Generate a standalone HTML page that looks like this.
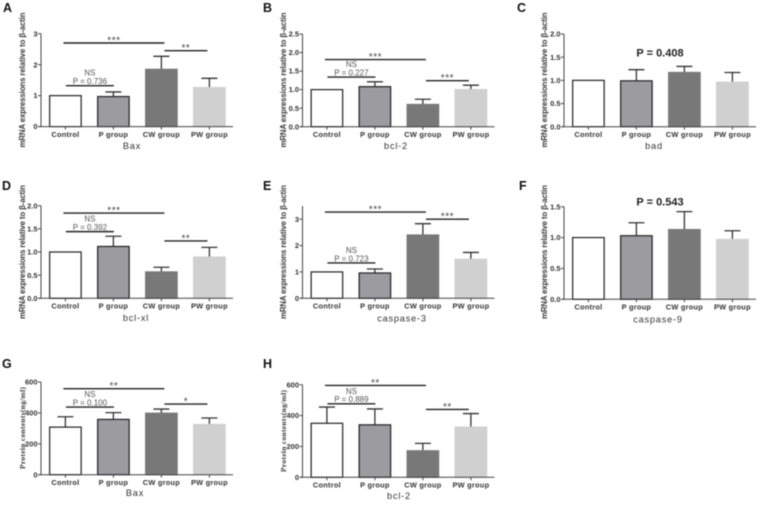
<!DOCTYPE html>
<html lang="en">
<head>
<meta charset="utf-8">
<title>mRNA and protein expression panels</title>
<style>
html,body{margin:0;padding:0;background:#fff;width:760px;height:505px;overflow:hidden}
svg{display:block;filter:blur(0.5px)}
text{font-family:"Liberation Sans",sans-serif}
</style>
</head>
<body>
<svg id="figure" xmlns="http://www.w3.org/2000/svg" width="760" height="505" viewBox="0 0 760 505"></svg>
<script>
const categories = ['Control', 'P group', 'CW group', 'PW group'];

const ticksA = ['0', '1', '2', '3'];
const valuesA = [1, 0.97, 1.85, 1.26];
const upperA = [null, 1.12, 2.27, 1.56];
const sigA = [[0, 2, 2.7, '***', ''], [2, 3, 2.45, '**', ''], [0, 1, 1.32, 'NS', 'P = 0.736']];

const ticksB = ['0.0', '0.5', '1.0', '1.5', '2.0', '2.5'];
const valuesB = [1, 1.08, 0.6, 1.0];
const upperB = [null, 1.21, 0.74, 1.12];
const sigB = [[0, 2, 1.81, '***', ''], [0, 1, 1.34, 'NS', 'P = 0.227'], [2, 3, 1.24, '***', '']];

const ticksC = ['0.0', '0.5', '1.0', '1.5', '2.0'];
const valuesC = [1, 0.99, 1.17, 0.96];
const upperC = [null, 1.23, 1.3, 1.17];
const sigC = [];

const ticksD = ['0.0', '0.5', '1.0', '1.5', '2.0'];
const valuesD = [1, 1.12, 0.57, 0.89];
const upperD = [null, 1.34, 0.67, 1.1];
const sigD = [[0, 2, 1.84, '***', ''], [0, 1, 1.44, 'NS', 'P = 0.392'], [2, 3, 1.24, '**', '']];

const ticksE = ['0', '1', '2', '3'];
const valuesE = [1, 0.96, 2.4, 1.48];
const upperE = [null, 1.11, 2.83, 1.74];
const sigE = [[0, 2, 3.27, '***', ''], [2, 3, 3.0, '***', ''], [0, 1, 1.34, 'NS', 'P = 0.723']];

const ticksF = ['0.0', '0.5', '1.0', '1.5'];
const valuesF = [1, 1.03, 1.13, 0.97];
const upperF = [null, 1.24, 1.42, 1.11];
const sigF = [];

const ticksG = ['0', '200', '400', '600'];
const valuesG = [308, 358, 398, 325];
const upperG = [375, 402, 425, 367];
const sigG = [[0, 2, 557, '**', ''], [0, 1, 438, 'NS', 'P = 0.100'], [2, 3, 457, '*', '']];

const ticksH = ['0', '200', '400', '600'];
const valuesH = [350, 340, 172, 325];
const upperH = [455, 443, 220, 413];
const sigH = [[0, 2, 595, '**', ''], [0, 1, 476, 'NS', 'P = 0.889'], [2, 3, 440, '**', '']];

const mrnaTitle = 'mRNA expressions relative to \u03B2-actin';
const proteinTitle = 'Protein contents(ng/ml)';

const panels = [
  {id:'A', gene:'Bax', ticks:ticksA, values:valuesA, upper:upperA, sig:sigA, axisMax:3, x0:41, base:126.6, top:33.7, lx:3, ly:12, title:mrnaTitle, tx:25, tc:80, tl:135, nameX:132, nameY:149},
  {id:'B', gene:'bcl-2', ticks:ticksB, values:valuesB, upper:upperB, sig:sigB, axisMax:2.5, x0:302.5, base:126.7, top:34, lx:263, ly:12, title:mrnaTitle, tx:286, tc:80, tl:135, nameX:396, nameY:149},
  {id:'C', gene:'bad', ticks:ticksC, values:valuesC, upper:upperC, sig:sigC, axisMax:2, x0:564, base:126.7, top:34, lx:517, ly:12, title:mrnaTitle, tx:547, tc:80, tl:135, nameX:654, nameY:149, big:'P = 0.408', bigX:660, bigY:56.7},
  {id:'D', gene:'bcl-xl', ticks:ticksD, values:valuesD, upper:upperD, sig:sigD, axisMax:2, x0:41, base:298.3, top:205.7, lx:2, ly:190, title:mrnaTitle, tx:25, tc:252, tl:134, nameX:136, nameY:321},
  {id:'E', gene:'caspase-3', ticks:ticksE, values:valuesE, upper:upperE, sig:sigE, axisMax:3.5, x0:302.5, base:298.3, top:206, lx:263, ly:190, title:mrnaTitle, tx:286, tc:252, tl:134, nameX:402, nameY:321.7},
  {id:'F', gene:'caspase-9', ticks:ticksF, values:valuesF, upper:upperF, sig:sigF, axisMax:1.5, x0:564, base:299.3, top:206.7, lx:519, ly:190, title:mrnaTitle, tx:547, tc:252, tl:134, nameX:658, nameY:322.7, big:'P = 0.543', bigX:660, bigY:205.7},
  {id:'G', gene:'Bax', ticks:ticksG, values:valuesG, upper:upperG, sig:sigG, axisMax:600, x0:41, base:474.7, top:382, lx:2, ly:368, title:proteinTitle, tx:25, tc:428, tl:82, nameX:135, nameY:496, serif:true},
  {id:'H', gene:'bcl-2', ticks:ticksH, values:valuesH, upper:upperH, sig:sigH, axisMax:600, x0:302.5, base:477.3, top:384.7, lx:263, ly:368, title:proteinTitle, tx:286, tc:431, tl:82, nameX:399, nameY:499, serif:true}
];

const barFill = ['#ffffff', '#9b9ba0', '#787878', '#d0d0d0'];
const barStroke = ['#222222', '#222222', '#787878', '#d0d0d0'];
const svg = document.getElementById('figure');
const NS = 'http://www.w3.org/2000/svg';

function make(parent, tag, attrs, content) {
  const el = document.createElementNS(NS, tag);
  for (const k in attrs) el.setAttribute(k, attrs[k]);
  if (content !== undefined) el.textContent = content;
  parent.appendChild(el);
  return el;
}

function drawPanel(p) {
  const g = make(svg, 'g', {});
  
  
  const yScale = v => p.base - (v / p.axisMax) * (p.base - p.top);
  const xCenter = i => p.x0 + 24.4 + i * 48;
  const barW = 31.5;

  const letter = make(g, 'text', {x:p.lx, y:p.ly, 'font-size':12.5, 'font-weight':'bold', fill:'#111'}, p.id);
  
  

  const yTitle = make(g, 'text', {
    transform:'translate(' + p.tx + ',' + p.tc + ') rotate(-90)',
    'text-anchor':'middle', 'font-size':p.serif ? 7.5 : 7.8, 'font-weight':'bold', fill:'#3a3a3a',
    textLength:p.tl, lengthAdjust:'spacing'
  }, p.title);
  if (p.serif) yTitle.style.fontFamily = '"Liberation Serif", serif';
  
  

  p.values.forEach((v, i) => {
    const cx = xCenter(i);
    if (p.upper[i] !== null) {
      const stem = make(g, 'line', {x1:cx, x2:cx, y1:yScale(v), y2:yScale(p.upper[i]), stroke:'#333', 'stroke-width':1.3});
      
      
      const cap = make(g, 'line', {x1:cx - 8, x2:cx + 8, y1:yScale(p.upper[i]), y2:yScale(p.upper[i]), stroke:'#333', 'stroke-width':1.3});
      
      
    }
    const bar = make(g, 'rect', {x:cx - barW / 2, y:yScale(v), width:barW, height:p.base - yScale(v), fill:barFill[i], stroke:barStroke[i], 'stroke-width':1.2});
    
    
    const tick = make(g, 'line', {x1:cx, x2:cx, y1:p.base, y2:p.base + 3, stroke:'#444', 'stroke-width':1});
    
    
    const label = make(g, 'text', {x:cx, y:p.base + 10.3, 'text-anchor':'middle', 'font-size':7.4, 'font-weight':'bold', 'letter-spacing':0.25, fill:'#333'}, categories[i]);
    
    
  });

  const yAxis = make(g, 'line', {x1:p.x0, x2:p.x0, y1:p.top, y2:p.base, stroke:'#444', 'stroke-width':1});
  
  
  const xAxis = make(g, 'line', {x1:p.x0 - 2, x2:p.x0 + 192, y1:p.base, y2:p.base, stroke:'#444', 'stroke-width':1});
  
  

  p.ticks.forEach(t => {
    const y = yScale(parseFloat(t));
    const mark = make(g, 'line', {x1:p.x0 - 3, x2:p.x0, y1:y, y2:y, stroke:'#444', 'stroke-width':1});
    
    
    const label = make(g, 'text', {x:p.x0 - 3.5, y:y + 2.6, 'text-anchor':'end', 'font-size':7.5, 'font-weight':'bold', fill:'#333'}, t);
    
    
  });

  p.sig.forEach(s => {
    const y = yScale(s[2]);
    const spansTwo = s[1] - s[0] === 2;
    const x1 = xCenter(s[0]) + (spansTwo ? -2 : (s[0] === 2 ? 3 : 0.5));
    const x2 = xCenter(s[1]) + (spansTwo ? 3 : (s[0] === 2 ? -2 : 0.5));
    const line = make(g, 'line', {x1:x1, x2:x2, y1:y, y2:y, stroke:'#222', 'stroke-width':1.4});
    
    
    const mid = (x1 + x2) / 2;
    if (s[4]) {
      const ns = make(g, 'text', {x:mid, y:y - 10, 'text-anchor':'middle', 'font-size':8, fill:'#555'}, s[3]);
      
      
      const pv = make(g, 'text', {x:mid, y:y - 1.6, 'text-anchor':'middle', 'font-size':8, fill:'#555'}, s[4]);
      
      
    } else {
      const stars = make(g, 'text', {x:mid, y:y + 0.5, 'text-anchor':'middle', 'font-size':10, 'letter-spacing':0.5, fill:'#444'}, s[3]);
      
      
    }
  });

  if (p.big) {
    const big = make(g, 'text', {x:p.bigX, y:p.bigY, 'text-anchor':'middle', 'font-size':11, 'font-weight':'bold', fill:'#222'}, p.big);
    
    
  }

  const geneName = make(g, 'text', {x:p.nameX, y:p.nameY, 'text-anchor':'middle', 'font-size':9.2, 'letter-spacing':0.8, fill:'#333'}, p.gene);
  
  
}

panels.forEach(drawPanel);
</script>
</body>
</html>
